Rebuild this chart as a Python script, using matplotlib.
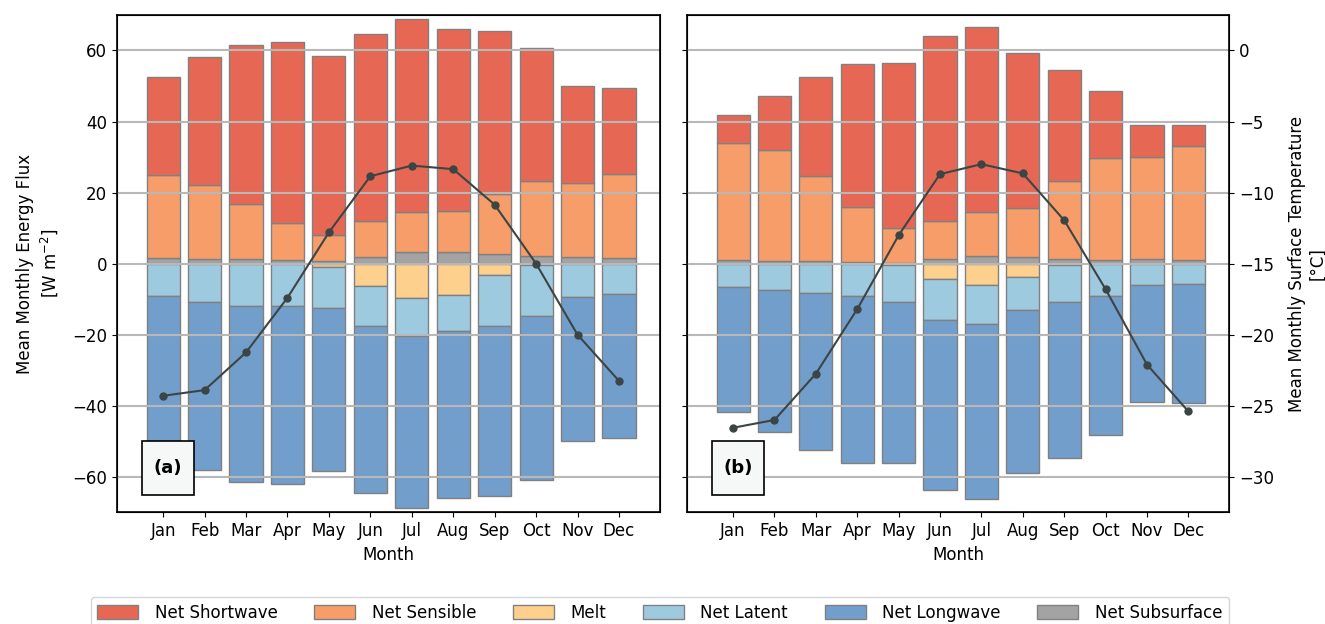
import numpy as np
import matplotlib.pyplot as plt
from matplotlib.patches import Rectangle

months = ["Jan", "Feb", "Mar", "Apr", "May", "Jun",
          "Jul", "Aug", "Sep", "Oct", "Nov", "Dec"]

# site (a): monthly mean energy fluxes [W m-2] and surface temperature [degC]
sw_a = [27.4, 36.0, 44.9, 51.0, 50.2, 52.8, 54.4, 51.3, 45.8, 37.5, 27.3, 24.2]
sh_a = [23.4, 20.8, 15.4, 10.2, 7.4, 10.0, 11.3, 11.4, 16.9, 21.0, 20.8, 23.6]
sub_a = [1.6, 1.4, 1.3, 1.1, 0.8, 1.9, 3.3, 3.3, 2.7, 2.2, 1.9, 1.6]
melt_a = [0.0, 0.0, 0.0, 0.0, -0.9, -6.4, -9.7, -8.7, -3.1, -0.3, 0.0, 0.0]
lh_a = [-9.2, -10.8, -12.0, -12.0, -11.6, -11.1, -10.6, -10.4, -14.4, -14.3, -9.5, -8.6]
lw_a = [-43.2, -47.2, -49.5, -50.1, -45.8, -47.2, -48.5, -46.9, -47.8, -46.2, -40.5, -40.6]
t_a = [-24.3, -23.9, -21.25, -17.4, -12.8, -8.85, -8.1, -8.35, -10.85, -15.0, -20.0, -23.25]

# site (b)
sw_b = [7.9, 15.3, 27.9, 40.3, 46.6, 52.1, 52.1, 43.4, 31.4, 18.9, 9.2, 5.9]
sh_b = [33.0, 31.2, 23.9, 15.4, 9.6, 10.7, 12.4, 13.9, 21.8, 28.5, 28.6, 32.1]
sub_b = [1.0, 0.8, 0.7, 0.5, 0.3, 1.3, 2.1, 1.9, 1.4, 1.1, 1.3, 1.1]
melt_b = [0.0, 0.0, 0.0, 0.0, -0.3, -4.3, -6.0, -3.9, -0.5, 0.0, 0.0, 0.0]
lh_b = [-6.6, -7.5, -8.4, -9.1, -10.4, -11.6, -11.1, -9.1, -10.4, -9.0, -5.9, -5.7]
lw_b = [-35.2, -39.8, -44.0, -46.9, -45.5, -47.9, -49.2, -46.0, -43.7, -39.2, -33.1, -33.4]
t_b = [-26.55, -26.0, -22.75, -18.2, -13.0, -8.7, -8.0, -8.65, -11.95, -16.8, -22.1, -25.4]

colors = {
    "Net Shortwave": "#e66854",
    "Net Sensible": "#f79d6a",
    "Melt": "#fdd08e",
    "Net Latent": "#9ecae0",
    "Net Longwave": "#729ecb",
    "Net Subsurface": "#a3a3a3",
}

fs = 12
plt.rcParams["font.size"] = fs

fig = plt.figure(figsize=(13.25, 6.24), dpi=100)
ax_a = fig.add_axes([0.0881, 0.179, 0.41, 0.797])
ax_b = fig.add_axes([0.5183, 0.179, 0.4095, 0.797], sharey=ax_a)

x = np.arange(len(months))
bar_kw = dict(width=0.8, edgecolor="grey", linewidth=1)


def draw_panel(ax, sw, sh, sub, melt, lh, lw, temp, label, right_labels):
    sw, sh, sub = np.array(sw), np.array(sh), np.array(sub)
    melt, lh, lw = np.array(melt), np.array(lh), np.array(lw)

    # positive stack: subsurface -> sensible -> shortwave
    ax.bar(x, sub, color=colors["Net Subsurface"], label="Net Subsurface", **bar_kw)
    ax.bar(x, sh, bottom=sub, color=colors["Net Sensible"], label="Net Sensible", **bar_kw)
    ax.bar(x, sw, bottom=sub + sh, color=colors["Net Shortwave"], label="Net Shortwave", **bar_kw)
    # negative stack: melt -> latent -> longwave
    ax.bar(x, melt, color=colors["Melt"], label="Melt", **bar_kw)
    ax.bar(x, lh, bottom=melt, color=colors["Net Latent"], label="Net Latent", **bar_kw)
    ax.bar(x, lw, bottom=melt + lh, color=colors["Net Longwave"], label="Net Longwave", **bar_kw)

    ax.set_ylim(-70, 70)
    ax.set_yticks(np.arange(-60, 61, 20))
    ax.set_xlim(-1.12, 11.99)
    ax.set_xticks(x)
    ax.set_xticklabels(months)
    ax.set_xlabel("Month")

    tw = ax.twinx()
    tw.plot(x, temp, color="#3c4545", marker="o", markersize=5, linewidth=1.5, zorder=5)
    tw.set_ylim(-32.5, 2.5)
    tw.set_yticks(np.arange(-30, 1, 5))
    tw.grid(axis="y", color="#b8b8b8", linewidth=1.5, zorder=0)
    if right_labels:
        tw.set_ylabel("Mean Monthly Surface Temperature\n[°C]", labelpad=10)
    else:
        tw.tick_params(right=False, labelright=False)

    # panel tag in a boxed corner
    tw.add_patch(Rectangle((0.0466, 0.0348), 0.0957, 0.1086, transform=ax.transAxes,
                           facecolor="#f6f8f8", edgecolor="black", linewidth=1.2,
                           zorder=9))
    tw.text(0.094, 0.089, label, transform=ax.transAxes, ha="center", va="center",
            fontsize=13, fontweight="bold", zorder=10)
    for s in tw.spines.values():
        s.set_linewidth(1.2)
    return tw


draw_panel(ax_a, sw_a, sh_a, sub_a, melt_a, lh_a, lw_a, t_a, "(a)", False)
draw_panel(ax_b, sw_b, sh_b, sub_b, melt_b, lh_b, lw_b, t_b, "(b)", True)

ax_a.set_ylabel("Mean Monthly Energy Flux\n[W m$^{-2}$]", labelpad=9)
ax_b.tick_params(labelleft=False)

order = ["Net Shortwave", "Net Sensible", "Melt", "Net Latent", "Net Longwave", "Net Subsurface"]
handles, labels = ax_a.get_legend_handles_labels()
lookup = dict(zip(labels, handles))
fig.legend([lookup[k] for k in order], order, loc="upper center",
           bbox_to_anchor=(0.498, 0.0433), borderaxespad=0, ncol=6, frameon=True,
           columnspacing=2.2, handlelength=2.45, handleheight=0.85, handletextpad=1.0)

fig.savefig("out.png", dpi=100)
